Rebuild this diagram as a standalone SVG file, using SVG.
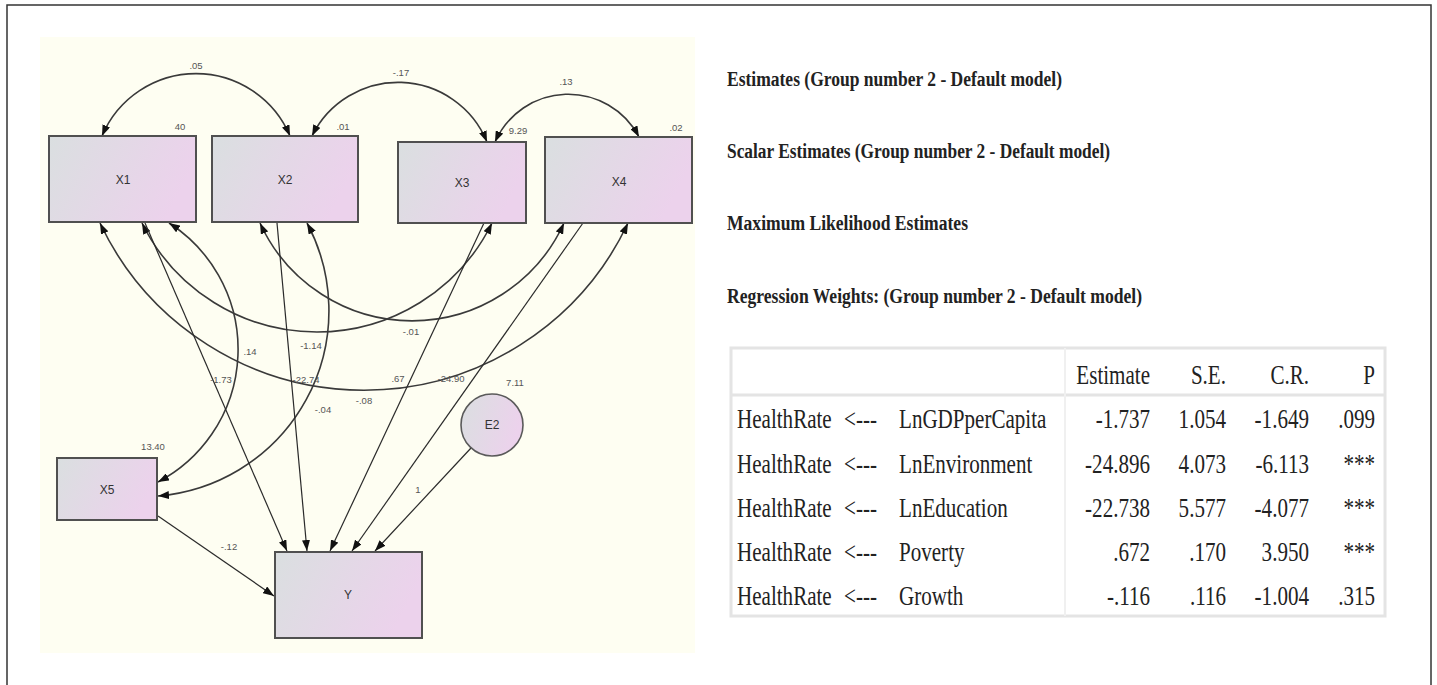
<svg xmlns="http://www.w3.org/2000/svg" width="1437" height="685" viewBox="0 0 1437 685">
<defs>
<linearGradient id="boxg" x1="0" y1="0" x2="1" y2="0.3">
<stop offset="0" stop-color="#dadfe0"/>
<stop offset="1" stop-color="#ecd2ec"/>
</linearGradient>
<marker id="ah" markerUnits="userSpaceOnUse" markerWidth="11" markerHeight="8" refX="11" refY="4" orient="auto-start-reverse">
<path d="M0,0 L11,4 L0,8 z" fill="#111"/>
</marker>
<style>
.box{fill:url(#boxg);stroke:#505050;stroke-width:2}
.nl{font-family:"Liberation Sans",Arial,sans-serif;font-size:12px;fill:#333;text-anchor:middle}
.vl{font-family:"Liberation Sans",Arial,sans-serif;font-size:9.5px;fill:#555;text-anchor:middle}
.cov{fill:none;stroke:#3a3a3a;stroke-width:1.6;marker-start:url(#ah);marker-end:url(#ah)}
.reg{fill:none;stroke:#2a2a2a;stroke-width:1.2;marker-end:url(#ah)}
.hd{font-family:"Liberation Serif","Times New Roman",serif;font-weight:bold;font-size:20px;fill:#222}
.tt{font-family:"Liberation Serif","Times New Roman",serif;font-size:27px;fill:#222}
.te{text-anchor:end}
</style>
</defs>
<rect x="0" y="0" width="1437" height="685" fill="#ffffff"/>
<rect x="7" y="5" width="1424" height="700" fill="none" stroke="#333" stroke-width="1.5"/>
<rect x="40" y="37" width="655" height="616" fill="#fefef2"/>

<g id="connectors">
<path class="cov" d="M102,136 A102,102 0 0 1 290,136"/>
<path class="cov" d="M312,136 A96,96 0 0 1 487,142"/>
<path class="cov" d="M495,142 A80,80 0 0 1 639,137"/>
<path class="cov" d="M100,223 A292,292 0 0 0 628,223"/>
<path class="cov" d="M142,223 A195,195 0 0 0 492,223"/>
<path class="cov" d="M260,223 A167,167 0 0 0 564,223"/>
<path class="cov" d="M169,223 A150,150 0 0 1 158,482"/>
<path class="cov" d="M307,223 A186,186 0 0 1 158,496"/>
<line class="reg" x1="145" y1="223" x2="287" y2="551"/>
<line class="reg" x1="277" y1="223" x2="307" y2="551"/>
<line class="reg" x1="484" y1="223" x2="330" y2="551"/>
<line class="reg" x1="583" y1="223" x2="352" y2="551"/>
<line class="reg" x1="471" y1="448" x2="375" y2="551"/>
<line class="reg" x1="158" y1="516" x2="274" y2="596"/>
</g>

<g id="edge-labels">
<text class="vl" x="196" y="69">.05</text>
<text class="vl" x="401" y="76">-.17</text>
<text class="vl" x="566" y="85">.13</text>
<text class="vl" x="250" y="355">.14</text>
<text class="vl" x="221" y="383">-1.73</text>
<text class="vl" x="311" y="349">-1.14</text>
<text class="vl" x="306" y="383">-22.74</text>
<text class="vl" x="323" y="413">-.04</text>
<text class="vl" x="364" y="404">-.08</text>
<text class="vl" x="411" y="335">-.01</text>
<text class="vl" x="398" y="382">.67</text>
<text class="vl" x="451" y="382">-24.90</text>
<text class="vl" x="418" y="493">1</text>
<text class="vl" x="229" y="550">-.12</text>
</g>

<g id="node-X1">
<rect class="box" x="49" y="136" width="147" height="86"/>
<text class="nl" x="123" y="184">X1</text>
<text class="vl" x="180" y="130">40</text>
</g>
<g id="node-X2">
<rect class="box" x="212" y="136" width="146" height="86"/>
<text class="nl" x="285" y="184">X2</text>
<text class="vl" x="343" y="130">.01</text>
</g>
<g id="node-X3">
<rect class="box" x="398" y="142" width="128" height="81"/>
<text class="nl" x="462" y="187">X3</text>
<text class="vl" x="518" y="134">9.29</text>
</g>
<g id="node-X4">
<rect class="box" x="545" y="137" width="147" height="86"/>
<text class="nl" x="619" y="186">X4</text>
<text class="vl" x="676" y="131">.02</text>
</g>
<g id="node-X5">
<rect class="box" x="57" y="458" width="100" height="62"/>
<text class="nl" x="107" y="494">X5</text>
<text class="vl" x="153" y="450">13.40</text>
</g>
<g id="node-Y">
<rect class="box" x="275" y="552" width="147" height="86"/>
<text class="nl" x="348" y="599">Y</text>
</g>
<g id="node-E2">
<circle cx="492" cy="425" r="31" fill="url(#boxg)" stroke="#5a5a5a" stroke-width="1.6"/>
<text class="nl" x="492" y="429">E2</text>
<text class="vl" x="515" y="386">7.11</text>
</g>

<g id="headings">
<text class="hd" x="727" y="86" textLength="335" lengthAdjust="spacingAndGlyphs">Estimates (Group number 2 - Default model)</text>
<text class="hd" x="727" y="158" textLength="383" lengthAdjust="spacingAndGlyphs">Scalar Estimates (Group number 2 - Default model)</text>
<text class="hd" x="727" y="230" textLength="241" lengthAdjust="spacingAndGlyphs">Maximum Likelihood Estimates</text>
<text class="hd" x="727" y="303" textLength="415" lengthAdjust="spacingAndGlyphs">Regression Weights: (Group number 2 - Default model)</text>
</g>

<g id="table">
<rect x="731" y="348" width="654" height="268" fill="#ffffff" stroke="#e4e4e4" stroke-width="3"/>
<line x1="731" y1="395" x2="1385" y2="395" stroke="#e4e4e4" stroke-width="3"/>
<line x1="1065" y1="348" x2="1065" y2="616" stroke="#f0f0f0" stroke-width="2"/>
<g transform="scale(0.78 1)" class="tt">
<text class="tt te" x="1474.4" y="384">Estimate</text>
<text class="tt te" x="1571.8" y="384">S.E.</text>
<text class="tt te" x="1678.2" y="384">C.R.</text>
<text class="tt te" x="1762.8" y="384">P</text>

<text class="tt" x="944.9" y="428">HealthRate</text>
<text class="tt" x="1082.1" y="428">&lt;---</text>
<text class="tt" x="1152.6" y="428">LnGDPperCapita</text>
<text class="tt te" x="1474.4" y="428">-1.737</text>
<text class="tt te" x="1571.8" y="428">1.054</text>
<text class="tt te" x="1678.2" y="428">-1.649</text>
<text class="tt te" x="1762.8" y="428">.099</text>

<text class="tt" x="944.9" y="473">HealthRate</text>
<text class="tt" x="1082.1" y="473">&lt;---</text>
<text class="tt" x="1152.6" y="473">LnEnvironment</text>
<text class="tt te" x="1474.4" y="473">-24.896</text>
<text class="tt te" x="1571.8" y="473">4.073</text>
<text class="tt te" x="1678.2" y="473">-6.113</text>
<text class="tt te" x="1762.8" y="473">***</text>

<text class="tt" x="944.9" y="517">HealthRate</text>
<text class="tt" x="1082.1" y="517">&lt;---</text>
<text class="tt" x="1152.6" y="517">LnEducation</text>
<text class="tt te" x="1474.4" y="517">-22.738</text>
<text class="tt te" x="1571.8" y="517">5.577</text>
<text class="tt te" x="1678.2" y="517">-4.077</text>
<text class="tt te" x="1762.8" y="517">***</text>

<text class="tt" x="944.9" y="561">HealthRate</text>
<text class="tt" x="1082.1" y="561">&lt;---</text>
<text class="tt" x="1152.6" y="561">Poverty</text>
<text class="tt te" x="1474.4" y="561">.672</text>
<text class="tt te" x="1571.8" y="561">.170</text>
<text class="tt te" x="1678.2" y="561">3.950</text>
<text class="tt te" x="1762.8" y="561">***</text>

<text class="tt" x="944.9" y="605">HealthRate</text>
<text class="tt" x="1082.1" y="605">&lt;---</text>
<text class="tt" x="1152.6" y="605">Growth</text>
<text class="tt te" x="1474.4" y="605">-.116</text>
<text class="tt te" x="1571.8" y="605">.116</text>
<text class="tt te" x="1678.2" y="605">-1.004</text>
<text class="tt te" x="1762.8" y="605">.315</text>
</g>
</g>
</svg>
